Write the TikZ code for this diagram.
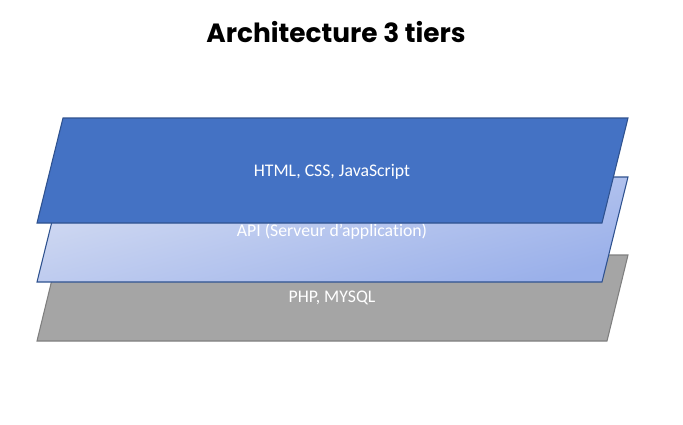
\documentclass[tikz,border=0pt]{standalone}
\usepackage{fontspec}
\setmainfont{Carlito}[Ligatures=NoCommon]
\newfontfamily\titlefont{Poppins}
\definecolor{bleuhaut}{HTML}{4472C4}
\definecolor{bordbleu}{HTML}{2F528F}
\definecolor{bleuclair}{HTML}{D4DCF2}
\definecolor{bleumoyen}{HTML}{9AB0EA}
\definecolor{gris}{HTML}{A5A5A5}
\definecolor{bordgris}{HTML}{7F7F7F}

\tikzset{
	couche/.style={draw=bordbleu, line width=0.8pt},
	etiquette/.style={text=white, font=\fontsize{13.3}{15}\selectfont},
}

\begin{document}
\begin{tikzpicture}[x=0.75pt,y=-0.75pt]
	\useasboundingbox (0,0) rectangle (683,425);
	% titre
	\node[font=\titlefont\bfseries\fontsize{19.8}{23}\selectfont] (titre) at (336,32) {Architecture 3 tiers};
	% couche donnees
	\filldraw[fill=gris, draw=bordgris, line width=0.8pt] (58,255) -- (628,255) -- (607,341) -- (37,341) -- cycle;
	\node[etiquette] (donnees) at (332,298) {PHP, MYSQL};
	% couche serveur
	\path[couche, top color=bleuclair, bottom color=bleumoyen, shading angle=15] (63,177) -- (628,177) -- (602,282) -- (37,282) -- cycle;
	\node[etiquette] (serveur) at (332,231) {API (Serveur d’application)};
	% couche client
	\filldraw[couche, fill=bleuhaut] (63,118) -- (628,118) -- (602,223) -- (37,223) -- cycle;
	\node[etiquette] (client) at (332,172) {HTML, CSS, JavaScript};
\end{tikzpicture}
\end{document}
